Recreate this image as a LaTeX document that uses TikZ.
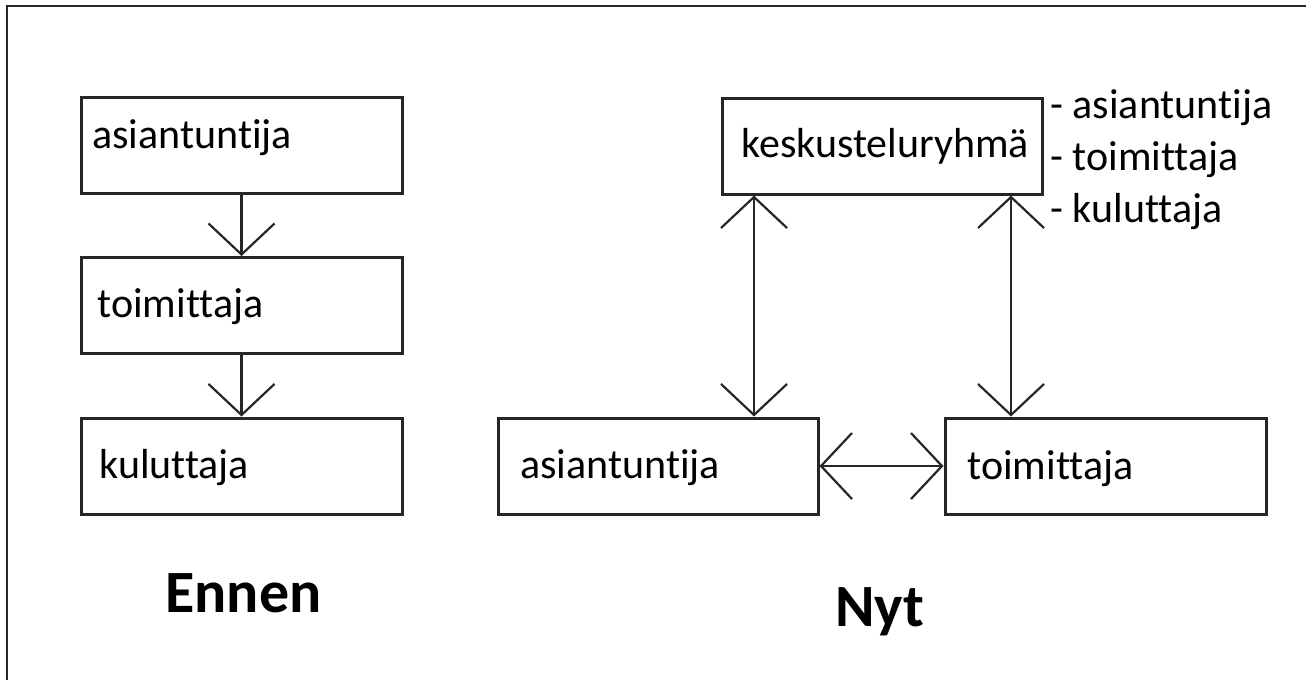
\documentclass[tikz,border=0pt]{standalone}
\usepackage{fontspec}
\setmainfont{Carlito}[Ligatures=CommonOff]
\usetikzlibrary{arrows.meta}
\begin{document}
\begin{tikzpicture}[x=0.5pt,y=-0.5pt,
  box/.style={draw=black!85, line width=1.5pt, minimum width=160.5pt, minimum height=48pt, inner sep=0pt},
  txt/.style={anchor=base west, inner sep=0pt, font=\fontsize{21}{25}\selectfont},
  ttl/.style={anchor=base west, inner sep=0pt, font=\fontsize{30}{36}\selectfont\bfseries},
  tip/.tip={Straight Barb[length=15.5pt,width=33pt]},
  conn/.style={line width=1.1pt, draw=black!85, -tip},
  both/.style={line width=1.1pt, draw=black!85, tip-tip}]
\useasboundingbox (0,0) rectangle (1306,680);
% frame
\draw[line width=1pt, black!85] (7,680) -- (7,6) -- (1306,6);

% Ennen
\node[box] (a1) at (241.5,145.5) {};
\node[box] (a2) at (241.5,305.5) {};
\node[box] (a3) at (241.5,466) {};
\node[txt] (ta1) at (92,148) {asiantuntija};
\node[txt] (ta2) at (97,317) {toimittaja};
\node[txt] (ta3) at (99,478) {kuluttaja};
\draw[conn] (a1) -- (a2);
\draw[conn] (a2) -- (a3);
\node[ttl] (ennen) at (165,612) {Ennen};

% Nyt
\node[box, minimum width=160pt] (k) at (882,146) {};
\node[box, minimum width=160pt] (b1) at (658,466) {};
\node[box] (b2) at (1105.5,466) {};
\node[txt] (tk) at (741,157) {keskusteluryhmä};
\node[txt] (tb1) at (520,478) {asiantuntija};
\node[txt] (tb2) at (967,479) {toimittaja};
\node[txt] (s1) at (1050,118) {- asiantuntija};
\node[txt] (s2) at (1050,170) {- toimittaja};
\node[txt] (s3) at (1050,222) {- kuluttaja};
\coordinate (c1) at (754,0);
\coordinate (c2) at (1011,0);
\draw[both] (c1 |- k.south) -- (c1 |- b1.north);
\draw[both] (c2 |- k.south) -- (c2 |- b2.north);
\draw[both] (b1) -- (b2);
\node[ttl] (nyt) at (835,626) {Nyt};
\end{tikzpicture}
\end{document}
